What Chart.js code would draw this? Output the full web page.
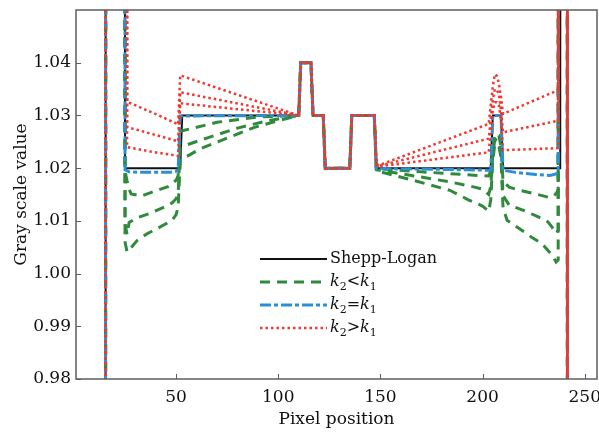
<!DOCTYPE html>
<html>
<head>
<meta charset="utf-8">
<title>Gray scale profile</title>
<script src="https://cdn.jsdelivr.net/npm/chart.js@4.4.0/dist/chart.umd.min.js"></script>
<style>
    html, body { margin: 0; padding: 0; background: #fff; }
    #wrap { width: 599px; height: 435px; }
</style>
</head>
<body>
<div id="wrap"><canvas id="profile-chart" width="599" height="435"></canvas></div>
<script>
// axis ticks
const xTickValues = [50, 100, 150, 200, 250];
const yTickValues = [0.98, 0.99, 1.0, 1.01, 1.02, 1.03, 1.04];

// Shepp-Logan reference profile
const sheppX = [1, 15, 16, 24, 25, 52, 53, 110, 111, 116, 117, 122, 123, 135, 136, 147, 148, 204, 205, 209, 210, 238, 239, 241, 242, 256];
const sheppY = [0, 0, 2, 2, 1.02, 1.02, 1.03, 1.03, 1.04, 1.04, 1.03, 1.03, 1.02, 1.02, 1.03, 1.03, 1.02, 1.02, 1.03, 1.03, 1.02, 1.02, 2, 2, 0, 0];

// k2 = k1
const equalX = [1, 15, 16, 24, 25, 27, 31, 47, 50, 51, 52, 110, 111, 116, 117, 122, 123, 135, 136, 147, 148, 175, 204, 205, 209, 210, 216, 226, 233, 236, 237, 238, 241, 242, 256];
const equalY = [0, 0, 2, 2, 1.0197, 1.0193, 1.0192, 1.0192, 1.0194, 1.0198, 1.0299, 1.030, 1.04, 1.04, 1.03, 1.03, 1.02, 1.02, 1.03, 1.03, 1.0199, 1.0198, 1.0196, 1.03, 1.03, 1.0196, 1.0192, 1.0188, 1.0186, 1.0189, 1.0196, 2, 2, 0, 0];

// k2 < k1 (three curves)
const lessAX = [1, 15, 16, 24, 25, 26, 27, 28, 33, 40, 46, 50, 51, 52, 70, 90, 110, 111, 116, 117, 122, 123, 135, 136, 147, 148, 170, 190, 203, 204, 205, 206, 208, 209, 210, 213, 218, 226, 232, 235, 237, 238, 241, 242, 256];
const lessAY = [0, 0, 2, 2, 1.0194, 1.0176, 1.016, 1.0151, 1.0147, 1.0157, 1.0165, 1.0177, 1.0186, 1.0270, 1.0287, 1.0297, 1.0300, 1.04, 1.04, 1.03, 1.03, 1.02, 1.02, 1.03, 1.03, 1.0199, 1.0193, 1.0188, 1.0185, 1.0195, 1.024, 1.0265, 1.0262, 1.024, 1.0175, 1.0164, 1.0158, 1.0151, 1.0145, 1.0147, 1.0158, 2, 2, 0, 0];
const lessBX = [1, 15, 16, 24, 25, 26, 27, 31, 37, 43, 48, 50, 51, 52, 65, 80, 95, 110, 111, 116, 117, 122, 123, 135, 136, 147, 148, 170, 184, 195, 200, 203, 204, 205, 206, 208, 209, 210, 213, 220, 227, 232, 234, 236, 237, 238, 241, 242, 256];
const lessBY = [0, 0, 2, 2, 1.0095, 1.0074, 1.0097, 1.0106, 1.0114, 1.0124, 1.0134, 1.0142, 1.0152, 1.0240, 1.0257, 1.0276, 1.0290, 1.0300, 1.04, 1.04, 1.03, 1.03, 1.02, 1.02, 1.03, 1.03, 1.0197, 1.0183, 1.0174, 1.0165, 1.0160, 1.0150, 1.0165, 1.0225, 1.0255, 1.0252, 1.023, 1.0148, 1.0130, 1.0120, 1.0108, 1.0098, 1.0088, 1.0076, 1.0082, 2, 2, 0, 0];
const lessCX = [1, 15, 16, 24, 25, 26, 27, 31, 36, 42, 48, 50, 51, 52, 62, 75, 88, 100, 110, 111, 116, 117, 122, 123, 135, 136, 147, 148, 165, 184, 193, 200, 203, 204, 205, 206, 208, 209, 210, 212, 217, 224, 229, 234, 236, 237, 238, 241, 242, 256];
const lessCY = [0, 0, 2, 2, 1.0060, 1.0041, 1.0045, 1.0063, 1.0076, 1.0088, 1.0101, 1.0112, 1.0126, 1.0215, 1.0237, 1.0257, 1.0277, 1.0290, 1.0300, 1.04, 1.04, 1.03, 1.03, 1.02, 1.02, 1.03, 1.03, 1.0195, 1.0178, 1.0158, 1.0140, 1.0128, 1.0118, 1.0140, 1.0215, 1.0245, 1.0242, 1.022, 1.0125, 1.0101, 1.0088, 1.0069, 1.0057, 1.0035, 1.0022, 1.0026, 2, 2, 0, 0];

// k2 > k1 (three curves, same positions)
const greaterX = [1, 15, 16, 24, 25, 26, 38, 50, 51, 52, 110, 111, 116, 117, 122, 123, 135, 136, 147, 148, 149, 203, 205, 206, 207, 208, 209, 210, 237, 238, 241, 242, 256];
const greaterAY = [0, 0, 2, 2, 2, 1.0326, 1.0306, 1.0285, 1.0283, 1.0376, 1.0300, 1.04, 1.04, 1.03, 1.03, 1.02, 1.02, 1.03, 1.03, 1.021, 1.0205, 1.0284, 1.0355, 1.0378, 1.0375, 1.036, 1.0335, 1.0303, 1.0348, 2, 2, 0, 0];
const greaterBY = [0, 0, 2, 2, 2, 1.0278, 1.0265, 1.0252, 1.0251, 1.0344, 1.0300, 1.04, 1.04, 1.03, 1.03, 1.02, 1.02, 1.03, 1.03, 1.0208, 1.0204, 1.0256, 1.033, 1.035, 1.0348, 1.034, 1.031, 1.0268, 1.0290, 2, 2, 0, 0];
const greaterCY = [0, 0, 2, 2, 2, 1.0240, 1.0231, 1.0224, 1.0223, 1.0323, 1.0300, 1.04, 1.04, 1.03, 1.03, 1.02, 1.02, 1.03, 1.03, 1.0206, 1.0203, 1.0230, 1.031, 1.0325, 1.0325, 1.032, 1.029, 1.0234, 1.0238, 2, 2, 0, 0];

const LEGEND_ROWS = [0, 1, 4, 5];
const FONT_FAMILY = '"DejaVu Serif", "Liberation Serif", serif';
const TEXT_COLOR = '#111';
const GREEN = '#2f8a3b';
const BLUE = '#2b8fd6';
const RED = '#f2372f';

function toPoints(xs, ys) {
    return xs.map((x, i) => ({ x: x, y: ys[i] }));
}

function lineSet(label, xs, ys, color, width, dash, order) {
    return {
        label: label,
        data: toPoints(xs, ys),
        borderColor: color,
        borderWidth: width,
        borderDash: dash,
        borderCapStyle: 'butt',
        pointRadius: 0,
        tension: 0,
        fill: false,
        order: order,
    };
}

// draws "k₂<k₁" with italic letters and real subscripts
function drawRichLabel(ctx, text, x, y) {
    const subs = '₀₁₂₃₄₅₆₇₈₉';
    const isMath = /[₀-₉]/.test(text);
    let cx = x;
    ctx.fillStyle = TEXT_COLOR;
    ctx.textBaseline = 'middle';
    ctx.textAlign = 'left';
    for (const ch of text) {
        const subIndex = subs.indexOf(ch);
        if (subIndex >= 0) {
            ctx.font = '11px ' + FONT_FAMILY;
            ctx.fillText(String(subIndex), cx, y + 5);
            cx += ctx.measureText(String(subIndex)).width;
        } else {
            const italic = isMath && /[a-z]/i.test(ch);
            ctx.font = (italic ? 'italic ' : '') + '16px ' + FONT_FAMILY;
            ctx.fillText(ch, cx, y);
            cx += ctx.measureText(ch).width;
        }
    }
}

const frameLegend = {
    id: 'frameLegend',
    afterDatasetsDraw(chart) {
        const { ctx, chartArea, scales } = chart;
        const { left, right, top, bottom } = chartArea;
        ctx.save();
        ctx.setLineDash([]);
        ctx.strokeStyle = '#5e5e5e';
        ctx.lineWidth = 1.5;
        ctx.strokeRect(left, top, right - left, bottom - top);

        // inward tick marks
        ctx.beginPath();
        xTickValues.forEach((v) => {
            const px = Math.round(scales.x.getPixelForValue(v)) + 0.5;
            ctx.moveTo(px, bottom);
            ctx.lineTo(px, bottom - 5);
        });
        yTickValues.forEach((v) => {
            const py = Math.round(scales.y.getPixelForValue(v)) + 0.5;
            ctx.moveTo(left, py);
            ctx.lineTo(left + 5, py);
        });
        ctx.lineWidth = 1;
        ctx.stroke();

        // legend, no box
        LEGEND_ROWS.forEach((index, row) => {
            const ds = chart.data.datasets[index];
            const y = top + 249 + row * 23;
            const x0 = left + 184;
            ctx.beginPath();
            ctx.setLineDash(ds.borderDash || []);
            ctx.strokeStyle = ds.borderColor;
            ctx.lineWidth = ds.borderWidth;
            ctx.moveTo(x0, y);
            ctx.lineTo(x0 + 67, y);
            ctx.stroke();
            ctx.setLineDash([]);
            drawRichLabel(ctx, ds.label, x0 + 70, y);
        });
        ctx.restore();
    },
};

const ctx = document.getElementById('profile-chart').getContext('2d');

// eslint-disable-next-line no-undef
new Chart(ctx, {
    type: 'line',
    data: {
        datasets: [
            lineSet('Shepp-Logan', sheppX, sheppY, '#111', 2, [], 4),
            lineSet('k₂<k₁', lessAX, lessAY, GREEN, 3, [10, 7], 3),
            lineSet('k₂<k₁ (b)', lessBX, lessBY, GREEN, 3, [10, 7], 3),
            lineSet('k₂<k₁ (c)', lessCX, lessCY, GREEN, 3, [10, 7], 3),
            lineSet('k₂=k₁', equalX, equalY, BLUE, 3, [11, 3, 4, 3], 2),
            lineSet('k₂>k₁', greaterX, greaterAY, RED, 2.5, [2.5, 3], 1),
            lineSet('k₂>k₁ (b)', greaterX, greaterBY, RED, 2.5, [2.5, 3], 1),
            lineSet('k₂>k₁ (c)', greaterX, greaterCY, RED, 2.5, [2.5, 3], 1),
        ],
    },
    options: {
        responsive: false,
        animation: false,
        layout: { padding: { top: 10, right: 2, left: 0, bottom: 0 } },
        scales: {
            x: {
                type: 'linear',
                min: 1,
                max: 256,
                grid: { display: false, drawTicks: false, tickLength: 0 },
                border: { display: false },
                afterBuildTicks: (axis) => {
                    axis.ticks = xTickValues.map((v) => ({ value: v }));
                },
                afterFit: (axis) => {
                    axis.height = 56;
                    axis.paddingLeft = 0;
                    axis.paddingRight = 0;
                },
                ticks: {
                    padding: 8,
                    maxRotation: 0,
                    color: TEXT_COLOR,
                    font: { family: FONT_FAMILY, size: 17 },
                },
                title: {
                    display: true,
                    text: 'Pixel position',
                    color: TEXT_COLOR,
                    font: { family: FONT_FAMILY, size: 17 },
                    padding: { top: 0, bottom: 5 },
                },
            },
            y: {
                type: 'linear',
                min: 0.98,
                max: 1.05,
                grid: { display: false, drawTicks: false, tickLength: 0 },
                border: { display: false },
                afterBuildTicks: (axis) => {
                    axis.ticks = yTickValues.map((v) => ({ value: v }));
                },
                afterFit: (axis) => {
                    axis.width = 76;
                    axis.paddingTop = 0;
                    axis.paddingBottom = 0;
                },
                ticks: {
                    padding: 5,
                    color: TEXT_COLOR,
                    font: { family: FONT_FAMILY, size: 17 },
                    callback: (value) => value.toFixed(2),
                },
                title: {
                    display: true,
                    text: 'Gray scale value',
                    color: TEXT_COLOR,
                    font: { family: FONT_FAMILY, size: 17 },
                    padding: { top: 11, bottom: 0 },
                },
            },
        },
        plugins: {
            legend: { display: false },
            tooltip: { enabled: false },
        },
    },
    plugins: [frameLegend],
});
</script>
</body>
</html>
